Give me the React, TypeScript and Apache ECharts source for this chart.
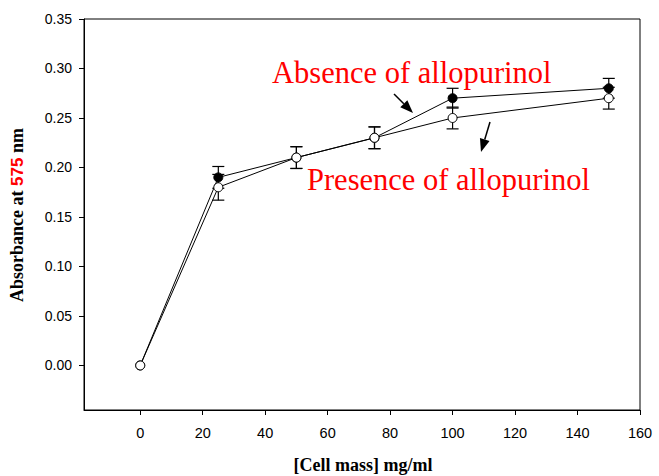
import React, { useEffect, useRef } from "react";
import * as echarts from "echarts";

const cellMass = [0, 25, 50, 75, 100, 150];
const absence = [0, 0.19, 0.21, 0.23, 0.27, 0.28];
const absenceErr = [0, 0.011, 0.011, 0.011, 0.01, 0.01];
const presence = [0, 0.18, 0.21, 0.23, 0.25, 0.27];
const presenceErr = [0, 0.013, 0.011, 0.011, 0.011, 0.011];
const xTicks = [0, 20, 40, 60, 80, 100, 120, 140, 160];
const yTicks = [0, 0.05, 0.1, 0.15, 0.2, 0.25, 0.3, 0.35];

function arrow(x1: number, y1: number, x2: number, y2: number) {
  const dx = x2 - x1, dy = y2 - y1;
  const len = Math.sqrt(dx * dx + dy * dy);
  const ux = dx / len, uy = dy / len;
  const hl = 13, hw = 5;
  const bx = x2 - ux * hl, by = y2 - uy * hl;
  return [
    { type: "line", shape: { x1, y1, x2: bx, y2: by }, style: { stroke: "#000", lineWidth: 1.5 } },
    {
      type: "polygon",
      shape: { points: [[x2, y2], [bx - uy * hw, by + ux * hw], [bx + uy * hw, by - ux * hw]] },
      style: { fill: "#000" },
    },
  ];
}

function errSeries(vals: number[], errs: number[]) {
  return {
    type: "custom",
    z: 1,
    data: cellMass.map((x, i) => [x, vals[i], errs[i]]),
    renderItem: (params: any, api: any) => {
      const x = api.value(0), y = api.value(1), e = api.value(2);
      if (!e) return null;
      const t = api.coord([x, y + e]);
      const b = api.coord([x, y - e]);
      const w = 6;
      const st = { stroke: "#000", lineWidth: 1.2 };
      return {
        type: "group",
        children: [
          { type: "line", shape: { x1: t[0], y1: t[1], x2: b[0], y2: b[1] }, style: st },
          { type: "line", shape: { x1: t[0] - w, y1: t[1], x2: t[0] + w, y2: t[1] }, style: st },
          { type: "line", shape: { x1: b[0] - w, y1: b[1], x2: b[0] + w, y2: b[1] }, style: st },
        ],
      };
    },
  };
}

export default function App() {
  const ref = useRef<HTMLDivElement>(null);
  useEffect(() => {
    const chart = echarts.init(ref.current!, null, { renderer: "svg" });
    chart.setOption({
      animation: false,
      backgroundColor: "#fff",
      grid: { left: 84, right: 19, top: 19, bottom: 66, show: true, borderColor: "#000", borderWidth: 1, backgroundColor: "transparent" },
      xAxis: {
        type: "value",
        min: -18,
        max: 160,
        splitLine: { show: false },
        axisLine: { onZero: false, lineStyle: { color: "#000" } },
        axisTick: { customValues: xTicks, length: 5, lineStyle: { color: "#000" } },
        axisLabel: { customValues: xTicks, color: "#000", fontFamily: "Liberation Sans", fontSize: 14.5, margin: 15 },
      },
      yAxis: {
        type: "value",
        min: -0.045,
        max: 0.35,
        splitLine: { show: false },
        axisLine: { onZero: false, lineStyle: { color: "#000" } },
        axisTick: { customValues: yTicks, length: 5, lineStyle: { color: "#000" } },
        axisLabel: {
          customValues: yTicks,
          color: "#000",
          fontFamily: "Liberation Sans",
          fontSize: 14,
          margin: 12,
          formatter: (v: number) => v.toFixed(2),
        },
      },
      series: [
        errSeries(absence, absenceErr),
        errSeries(presence, presenceErr),
        {
          type: "line",
          z: 2,
          data: cellMass.map((x, i) => [x, absence[i]]),
          symbol: "circle",
          symbolSize: 9,
          lineStyle: { color: "#000", width: 1 },
          itemStyle: { color: "#000", borderColor: "#000", borderWidth: 1 },
        },
        {
          type: "line",
          z: 3,
          data: cellMass.map((x, i) => [x, presence[i]]),
          symbol: "circle",
          symbolSize: 9,
          lineStyle: { color: "#000", width: 1 },
          itemStyle: { color: "#fff", borderColor: "#000", borderWidth: 1 },
        },
      ],
      graphic: [
        {
          type: "text",
          x: 272,
          y: 73,
          style: { text: "Absence of allopurinol", fill: "#ff0000", font: "30.5px 'Liberation Serif'", verticalAlign: "middle" },
        },
        {
          type: "text",
          x: 307,
          y: 180,
          style: { text: "Presence of allopurinol", fill: "#ff0000", font: "30.5px 'Liberation Serif'", verticalAlign: "middle" },
        },
        ...arrow(394, 94, 413, 113),
        ...arrow(490, 122, 481, 152),
        {
          type: "text",
          x: 363,
          y: 465,
          style: { text: "[Cell mass] mg/ml", fill: "#000", font: "bold 18px 'Liberation Serif'", align: "center", verticalAlign: "middle" },
        },
        {
          type: "text",
          x: 17,
          y: 215,
          rotation: Math.PI / 2,
          style: {
            text: "{a|Absorbance at }{r|575}{a| nm}",
            align: "center",
            verticalAlign: "middle",
            rich: {
              a: { fill: "#000", font: "bold 18px 'Liberation Serif'" },
              r: { fill: "#ff0000", font: "bold 17px 'Liberation Sans'" },
            },
          },
        },
      ],
    });
    return () => chart.dispose();
  }, []);
  return <div ref={ref} style={{ width: 659, height: 476, position: "absolute", left: 0, top: 0 }} />;
}
